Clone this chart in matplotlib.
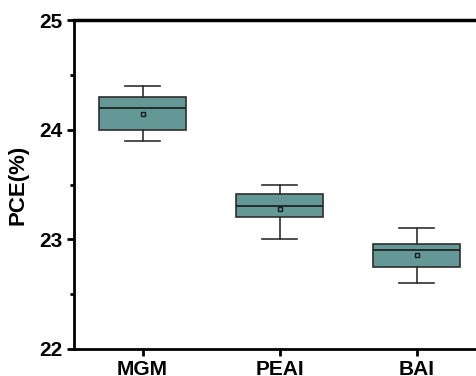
import matplotlib
matplotlib.use('Agg')
import matplotlib.pyplot as plt
from matplotlib.ticker import MultipleLocator

plt.rcParams['font.family'] = ['Liberation Sans', 'DejaVu Sans']

# Box statistics
samples = ['MGM', 'PEAI', 'BAI']
whisker_low = [23.9, 23.0, 22.6]
q1 = [24.0, 23.2, 22.75]
median = [24.2, 23.3, 22.9]
q3 = [24.3, 23.41, 22.96]
whisker_high = [24.4, 23.5, 23.1]
mean = [24.14, 23.28, 22.86]

stats = []
for i, name in enumerate(samples):
    stats.append({'label': name, 'whislo': whisker_low[i], 'q1': q1[i], 'med': median[i],
                  'q3': q3[i], 'whishi': whisker_high[i], 'mean': mean[i], 'fliers': []})

fig = plt.figure(figsize=(4.77, 3.76), dpi=100)
ax = fig.add_axes([74 / 477, 1 - 349 / 376, 411 / 477, 329 / 376])

ax.bxp(stats, positions=[1, 2, 3], widths=0.64, patch_artist=True, showmeans=True,
       capwidths=0.26,
       boxprops=dict(facecolor='#639896', edgecolor='#2f2f2f', linewidth=1.2),
       medianprops=dict(color='#1a1a1a', linewidth=1.2),
       whiskerprops=dict(color='#2f2f2f', linewidth=1.2),
       capprops=dict(color='#2f2f2f', linewidth=1.2),
       meanprops=dict(marker='s', markersize=3.5, markerfacecolor='none',
                      markeredgecolor='#1a1a1a', markeredgewidth=1.0))

ax.set_xlim(0.5, 3.5)
ax.set_ylim(22, 25)
ax.yaxis.set_major_locator(MultipleLocator(1))
ax.yaxis.set_minor_locator(MultipleLocator(0.5))
ax.tick_params(axis='both', which='major', direction='out', length=5, width=2,
               labelsize=15, pad=3)
ax.tick_params(axis='y', which='minor', direction='out', length=3, width=2)
ax.tick_params(axis='x', which='minor', bottom=False)
for lab in ax.get_xticklabels() + ax.get_yticklabels():
    lab.set_fontweight('bold')
for sp in ax.spines.values():
    sp.set_linewidth(2)
ax.spines['top'].set_linewidth(2.5)

ax.set_ylabel('PCE(%)', fontsize=16, fontweight='bold', labelpad=8)

fig.savefig('out.png', dpi=100)
